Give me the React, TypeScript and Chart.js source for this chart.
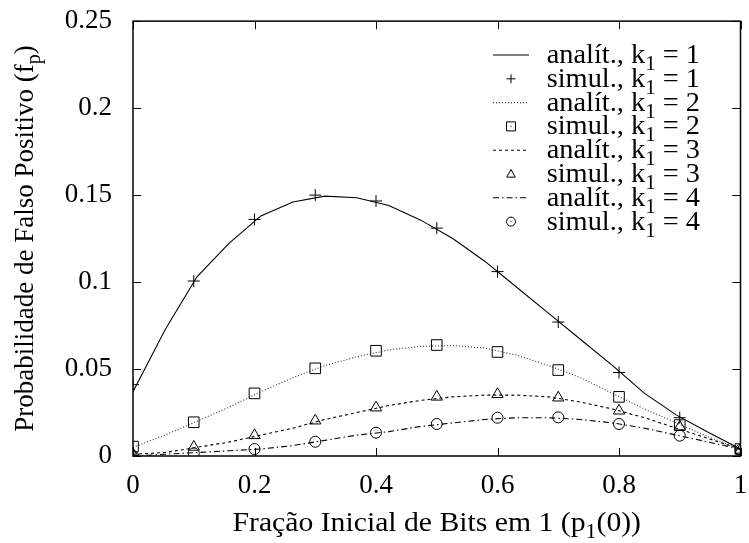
import React, { useEffect, useRef } from "react";
import { Chart, registerables } from "chart.js";

Chart.register(...registerables);

// ---- data ----
const xAnalytic = [0, 0.0526, 0.1053, 0.1579, 0.2105, 0.2632, 0.3158, 0.3684, 0.4211, 0.4737, 0.5263, 0.5789, 0.6316, 0.6842, 0.7368, 0.7895, 0.8421, 0.8947, 0.9474, 1];
const analytic1 = [0.037, 0.0724, 0.103, 0.1222, 0.138, 0.146, 0.1494, 0.1485, 0.144, 0.1356, 0.125, 0.112, 0.097, 0.082, 0.067, 0.052, 0.036, 0.0235, 0.0135, 0.004];
const analytic2 = [0.005, 0.012, 0.02, 0.028, 0.037, 0.045, 0.052, 0.057, 0.061, 0.063, 0.0635, 0.062, 0.058, 0.052, 0.045, 0.036, 0.027, 0.019, 0.011, 0.004];
const analytic3 = [0.001, 0.002, 0.005, 0.008, 0.012, 0.016, 0.021, 0.025, 0.029, 0.032, 0.034, 0.035, 0.035, 0.034, 0.031, 0.027, 0.022, 0.016, 0.01, 0.004];
const analytic4 = [0.0, 0.001, 0.002, 0.003, 0.004, 0.006, 0.009, 0.012, 0.014, 0.017, 0.019, 0.021, 0.022, 0.022, 0.021, 0.019, 0.016, 0.012, 0.008, 0.004];

const xSim = [0, 0.1, 0.2, 0.3, 0.4, 0.5, 0.6, 0.7, 0.8, 0.9, 1];
const sim1 = [0.041, 0.1006, 0.136, 0.15, 0.1466, 0.131, 0.106, 0.077, 0.048, 0.022, 0.004];
const sim2 = [0.0054, 0.0194, 0.036, 0.0504, 0.0605, 0.0638, 0.0598, 0.0494, 0.034, 0.0178, 0.004];
const sim3 = [0.001, 0.0052, 0.0119, 0.0203, 0.0278, 0.034, 0.0355, 0.0335, 0.026, 0.0168, 0.0035];
const sim4 = [0.0, 0.0015, 0.004, 0.0082, 0.0134, 0.0184, 0.022, 0.0222, 0.0184, 0.0117, 0.0035];

const xTicks = [0, 0.2, 0.4, 0.6, 0.8, 1];
const xTickLabels = ["0", "0.2", "0.4", "0.6", "0.8", "1"];
const yTicks = [0, 0.05, 0.1, 0.15, 0.2, 0.25];
const yTickLabels = ["0", "0.05", "0.1", "0.15", "0.2", "0.25"];

const legendMain = ["analít., k", "simul., k", "analít., k", "simul., k", "analít., k", "simul., k", "analít., k", "simul., k"];
const legendSub = ["1", "1", "1", "1", "1", "1", "1", "1"];
const legendRest = [" = 1", " = 1", " = 2", " = 2", " = 3", " = 3", " = 4", " = 4"];

const xTitleMain = "Fração Inicial de Bits em 1 (p";
const xTitleSub = "1";
const xTitleRest = "(0))";
const yTitleMain = "Probabilidade de Falso Positivo (f";
const yTitleSub = "p";
const yTitleRest = ")";

const FONT_FAMILY = "'Liberation Serif', 'Times New Roman', serif";
const FS = 27;
const SUB_FS = 20;

function pts(xs: number[], ys: number[]) {
  return xs.map((x, i) => ({ x, y: ys[i] }));
}

function drawMarker(ctx: CanvasRenderingContext2D, style: string, x: number, y: number, r: number) {
  ctx.beginPath();
  if (style === "cross") {
    ctx.moveTo(x - r, y); ctx.lineTo(x + r, y);
    ctx.moveTo(x, y - r); ctx.lineTo(x, y + r);
    ctx.stroke();
  } else if (style === "rect") {
    ctx.rect(x - r, y - r, 2 * r, 2 * r);
    ctx.stroke();
    ctx.fillRect(x - 0.5, y - 0.5, 1, 1);
  } else if (style === "triangle") {
    ctx.moveTo(x, y - r);
    ctx.lineTo(x + r * 0.95, y + r * 0.7);
    ctx.lineTo(x - r * 0.95, y + r * 0.7);
    ctx.closePath();
    ctx.stroke();
  } else if (style === "circle") {
    ctx.arc(x, y, r, 0, Math.PI * 2);
    ctx.stroke();
    ctx.fillRect(x - 0.5, y - 0.5, 1, 1);
  }
}

function drawSubText(
  ctx: CanvasRenderingContext2D,
  main: string,
  sub: string,
  rest: string,
  x: number,
  y: number,
  align: "right" | "center",
  stretch: number
) {
  ctx.save();
  ctx.font = `${FS}px ${FONT_FAMILY}`;
  const w1 = ctx.measureText(main).width;
  const w3 = ctx.measureText(rest).width;
  ctx.font = `${SUB_FS}px ${FONT_FAMILY}`;
  const w2 = ctx.measureText(sub).width;
  const total = (w1 + w2 + w3) * stretch;
  const sx = align === "right" ? x - total : x - total / 2;
  ctx.translate(sx, y);
  ctx.scale(stretch, 1);
  ctx.textAlign = "left";
  ctx.textBaseline = "alphabetic";
  ctx.font = `${FS}px ${FONT_FAMILY}`;
  ctx.fillText(main, 0, 0);
  ctx.font = `${SUB_FS}px ${FONT_FAMILY}`;
  ctx.fillText(sub, w1, 7);
  ctx.font = `${FS}px ${FONT_FAMILY}`;
  ctx.fillText(rest, w1 + w2, 0);
  ctx.restore();
}

const framePlugin = {
  id: "gnuFrame",
  afterDraw(chart: any) {
    const { ctx, chartArea: a, scales } = chart;
    ctx.save();
    ctx.strokeStyle = "#000";
    ctx.fillStyle = "#000";
    ctx.setLineDash([]);
    ctx.lineWidth = 1.5;
    ctx.strokeRect(a.left, a.top, a.right - a.left, a.bottom - a.top);
    ctx.lineWidth = 1;
    const tl = 8;
    xTicks.forEach((v) => {
      const px = Math.round(scales.x.getPixelForValue(v)) + 0.5;
      ctx.beginPath();
      ctx.moveTo(px, a.bottom); ctx.lineTo(px, a.bottom - tl);
      ctx.moveTo(px, a.top); ctx.lineTo(px, a.top + tl);
      ctx.stroke();
    });
    yTicks.forEach((v) => {
      const py = Math.round(scales.y.getPixelForValue(v)) + 0.5;
      ctx.beginPath();
      ctx.moveTo(a.left, py); ctx.lineTo(a.left + tl, py);
      ctx.moveTo(a.right, py); ctx.lineTo(a.right - tl, py);
      ctx.stroke();
    });

    // legend
    chart.data.datasets.forEach((ds: any, i: number) => {
      const y = 55 + i * 23.8;
      ctx.strokeStyle = "#000";
      if (ds.showLine) {
        ctx.beginPath();
        ctx.setLineDash(ds.borderDash || []);
        ctx.strokeStyle = ds.borderColor;
        ctx.lineWidth = ds.borderWidth;
        ctx.moveTo(493, y);
        ctx.lineTo(529, y);
        ctx.stroke();
      } else {
        ctx.setLineDash([]);
        ctx.lineWidth = 1;
        drawMarker(ctx, ds.pointStyle, 511, y, 4.5);
      }
      ctx.setLineDash([]);
      ctx.fillStyle = "#000";
      drawSubText(ctx, legendMain[i], legendSub[i], legendRest[i], 700, y + 8, "right", 1.05);
    });

    // axis titles
    const xc = (a.left + a.right) / 2;
    drawSubText(ctx, xTitleMain, xTitleSub, xTitleRest, xc, 531, "center", 1.1);
    const yc = (a.top + a.bottom) / 2;
    ctx.translate(33, yc);
    ctx.rotate(-Math.PI / 2);
    drawSubText(ctx, yTitleMain, yTitleSub, yTitleRest, 0, 0, "center", 1);
    ctx.restore();
  },
};

export default function App() {
  const ref = useRef<HTMLCanvasElement | null>(null);
  useEffect(() => {
    if (!ref.current) return;
    const markerCommon = {
      showLine: false,
      borderColor: "#000",
      backgroundColor: "rgba(0,0,0,0)",
      pointBorderWidth: 1,
      pointBorderColor: "#000",
      pointBackgroundColor: "rgba(0,0,0,0)",
    };
    const lineCommon = {
      showLine: true,
      pointRadius: 0,
      pointHoverRadius: 0,
      borderColor: "#000",
      fill: false,
      tension: 0,
    };
    const chart = new Chart(ref.current, {
      type: "scatter",
      data: {
        datasets: [
          { ...lineCommon, label: "analít., k1 = 1", data: pts(xAnalytic, analytic1), borderWidth: 1.1, borderDash: [] },
          { ...markerCommon, label: "simul., k1 = 1", data: pts(xSim, sim1), pointStyle: "cross", pointRadius: 6 },
          { ...lineCommon, label: "analít., k1 = 2", data: pts(xAnalytic, analytic2), borderWidth: 1.1, borderDash: [1, 2], borderColor: "#333" },
          { ...markerCommon, label: "simul., k1 = 2", data: pts(xSim, sim2), pointStyle: "rect", pointRadius: 7.5 },
          { ...lineCommon, label: "analít., k1 = 3", data: pts(xAnalytic, analytic3), borderWidth: 1.1, borderDash: [3, 3] },
          { ...markerCommon, label: "simul., k1 = 3", data: pts(xSim, sim3), pointStyle: "triangle", pointRadius: 6.5 },
          { ...lineCommon, label: "analít., k1 = 4", data: pts(xAnalytic, analytic4), borderWidth: 1.1, borderDash: [6, 3, 1.5, 3] },
          { ...markerCommon, label: "simul., k1 = 4", data: pts(xSim, sim4), pointStyle: "circle", pointRadius: 5.5 },
        ] as any,
      },
      options: {
        animation: false,
        responsive: false,
        devicePixelRatio: 1,
        layout: { padding: { top: 21, right: 8, left: 0, bottom: 0 } },
        plugins: { legend: { display: false }, tooltip: { enabled: false }, title: { display: false } },
        scales: {
          x: {
            type: "linear",
            min: 0,
            max: 1,
            afterBuildTicks: (s: any) => { s.ticks = xTicks.map((v) => ({ value: v })); },
            afterFit: (s: any) => { s.height = 87; },
            grid: { display: false, drawTicks: false },
            border: { display: false },
            ticks: {
              color: "#000",
              padding: 0,
              maxRotation: 0,
              autoSkip: false,
              font: { family: FONT_FAMILY, size: FS, lineHeight: 2.22 },
              callback: (_v: any, i: number) => xTickLabels[i],
            },
          },
          y: {
            type: "linear",
            min: 0,
            max: 0.25,
            afterBuildTicks: (s: any) => { s.ticks = yTicks.map((v) => ({ value: v })); },
            afterFit: (s: any) => { s.width = 133; },
            grid: { display: false, drawTicks: false },
            border: { display: false },
            ticks: {
              color: "#000",
              padding: 21,
              autoSkip: false,
              font: { family: FONT_FAMILY, size: FS, lineHeight: 0.01 },
              callback: (_v: any, i: number) => yTickLabels[i],
            },
          },
        },
      },
      plugins: [framePlugin],
    } as any);
    return () => chart.destroy();
  }, []);
  return (
    <div style={{ position: "fixed", left: 0, top: 0, width: 749, height: 543, background: "#fff" }}>
      <canvas ref={ref} width={749} height={543} style={{ width: 749, height: 543, display: "block" }} />
    </div>
  );
}
